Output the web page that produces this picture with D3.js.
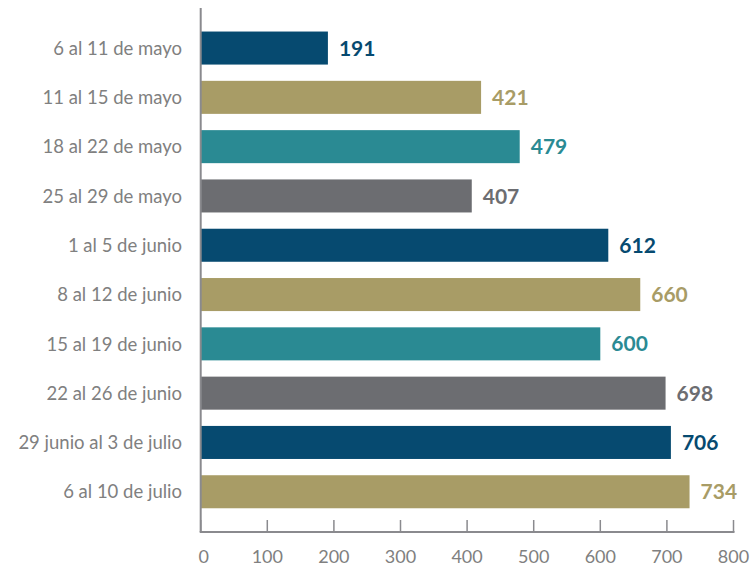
<!DOCTYPE html>
<html>
<head>
<meta charset="utf-8">
<script src="https://cdn.jsdelivr.net/npm/d3@7"></script>
<style>
  body { margin: 0; background: #fff; }
  svg { display: block; font-family: Lato, "Open Sans", sans-serif; }
</style>
</head>
<body>
<svg id="chart" width="751" height="566"></svg>
<script>
// weeks and counts
const weeks = [
  "6 al 11 de mayo", "11 al 15 de mayo", "18 al 22 de mayo", "25 al 29 de mayo",
  "1 al 5 de junio", "8 al 12 de junio", "15 al 19 de junio", "22 al 26 de junio",
  "29 junio al 3 de julio", "6 al 10 de julio"
]
const counts = [191, 421, 479, 407, 612, 660, 600, 698, 706, 734]
const palette = ["#064a70", "#a89c66", "#2a8a93", "#6c6d71"]
const xTicks = [0, 100, 200, 300, 400, 500, 600, 700, 800]

const svg = d3.select("#chart")
const x0 = 200.7, x1 = 733.5, axisY = 532

const x = d3.scaleLinear().domain([0, 800]).range([x0, x1])
const y = d3.scaleBand().domain(weeks).range([23.4, 516.4])
  .paddingInner(0.33).paddingOuter(0.165)
const colour = i => palette[i % palette.length]

// bars
svg.append("g").selectAll("rect")
  .data(counts)
  .join("rect")
  .attr("x", x(0))
  .attr("y", (d, i) => y(weeks[i]))
  .attr("width", d => x(d) - x(0))
  .attr("height", y.bandwidth())
  .attr("fill", (d, i) => colour(i))

// value labels
svg.append("g").selectAll("text")
  .data(counts)
  .join("text")
  .attr("x", d => x(d) + 11)
  .attr("y", (d, i) => y(weeks[i]) + y.bandwidth() / 2)
  .attr("dy", "0.36em")
  .attr("font-size", 21)
  .attr("font-weight", 700)
  .attr("fill", (d, i) => colour(i))
  .text(d => d)

// category labels
svg.append("g").selectAll("text")
  .data(weeks)
  .join("text")
  .attr("x", 182)
  .attr("y", d => y(d) + y.bandwidth() / 2)
  .attr("dy", "0.36em")
  .attr("text-anchor", "end")
  .attr("font-size", 18.5)
  .attr("fill", "#808080")
  .text(d => d)

// axis lines
const axisColour = "#8a8a8e"
svg.append("line")
  .attr("x1", x0).attr("x2", x0).attr("y1", 8).attr("y2", axisY)
  .attr("stroke", axisColour).attr("stroke-width", 2)
svg.append("line")
  .attr("x1", x0 - 1).attr("x2", x1 + 1).attr("y1", axisY).attr("y2", axisY)
  .attr("stroke", axisColour).attr("stroke-width", 2)

// ticks point up from the baseline
svg.append("g").selectAll("line")
  .data(xTicks)
  .join("line")
  .attr("x1", d => x(d)).attr("x2", d => x(d))
  .attr("y1", axisY - 12).attr("y2", axisY)
  .attr("stroke", axisColour).attr("stroke-width", 1.5)

svg.append("g").selectAll("text")
  .data(xTicks)
  .join("text")
  .attr("x", d => x(d) + (d === 0 ? 3 : 0))
  .attr("y", 557)
  .attr("dy", "0.36em")
  .attr("text-anchor", "middle")
  .attr("font-size", 18)
  .attr("fill", "#808080")
  .text(d => d)
</script>
</body>
</html>
